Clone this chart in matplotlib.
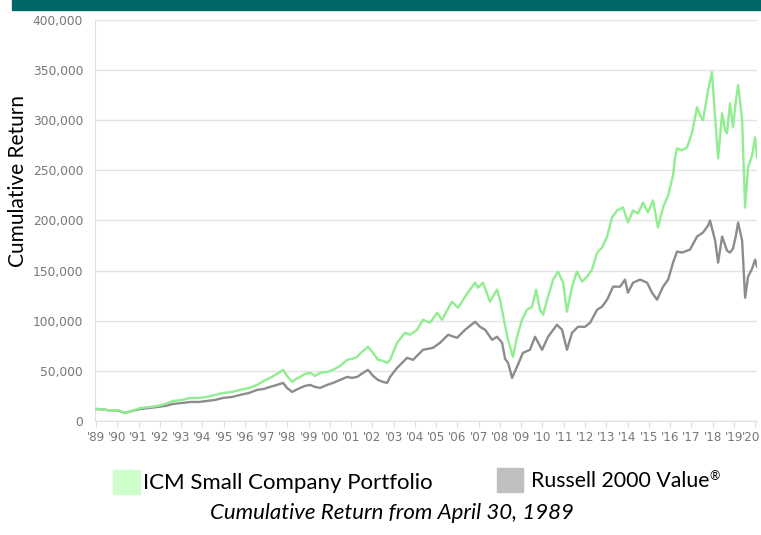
import matplotlib.pyplot as plt
from matplotlib.patches import Rectangle
from matplotlib.ticker import FuncFormatter
from matplotlib.transforms import ScaledTranslation

# values, dates in fractional years
icm_dates = [1989.00, 1989.33, 1989.66, 1990.03, 1990.36, 1990.69, 1991.07, 1991.54,
             1991.87, 1992.25, 1992.62, 1993.05, 1993.42, 1993.84, 1994.22, 1994.60,
             1994.97, 1995.40, 1995.77, 1996.20, 1996.57, 1996.90, 1997.18, 1997.51,
             1997.80, 1997.98, 1998.22, 1998.41, 1998.60, 1998.83, 1999.07, 1999.30,
             1999.54, 1999.87, 2000.15, 2000.48, 2000.81, 2001.04, 2001.28, 2001.56,
             2001.79, 2002.03, 2002.26, 2002.50, 2002.69, 2002.83, 2003.16, 2003.53,
             2003.77, 2004.10, 2004.38, 2004.71, 2005.04, 2005.27, 2005.74, 2006.03,
             2006.36, 2006.59, 2006.83, 2006.97, 2007.20, 2007.53, 2007.86, 2008.00,
             2008.24, 2008.38, 2008.61, 2008.80, 2009.04, 2009.27, 2009.51, 2009.70,
             2009.88, 2010.03, 2010.26, 2010.50, 2010.73, 2010.97, 2011.15, 2011.39,
             2011.62, 2011.86, 2012.10, 2012.33, 2012.57, 2012.80, 2013.04, 2013.27,
             2013.51, 2013.79, 2014.02, 2014.26, 2014.49, 2014.73, 2014.96, 2015.20,
             2015.43, 2015.67, 2015.91, 2016.14, 2016.23, 2016.33, 2016.56, 2016.80,
             2017.03, 2017.27, 2017.41, 2017.55, 2017.79, 2017.97, 2018.12, 2018.26,
             2018.45, 2018.59, 2018.68, 2018.82, 2018.96, 2019.10, 2019.20, 2019.29,
             2019.39, 2019.53, 2019.67, 2019.86, 2020.00, 2020.09]
icm_values = [12000, 11500, 10500, 11000, 8000, 10000, 13000, 14000,
              15000, 17000, 20000, 21000, 23000, 23000, 24000, 26000,
              28000, 29000, 31000, 33000, 36000, 40000, 43000, 47000,
              51000, 45000, 39000, 42000, 44000, 47000, 48000, 45000,
              48000, 49000, 51000, 55000, 61000, 62000, 64000, 70000,
              74000, 68000, 61000, 60000, 58000, 61000, 78000, 88000,
              86000, 91000, 101000, 98000, 108000, 101000, 119000, 113000,
              124000, 131000, 138000, 133000, 138000, 119000, 131000, 121000,
              95000, 81000, 64000, 84000, 101000, 111000, 114000, 131000,
              111000, 106000, 124000, 141000, 149000, 138000, 109000, 134000,
              149000, 139000, 144000, 151000, 168000, 173000, 184000, 203000,
              210000, 213000, 198000, 210000, 207000, 218000, 208000, 220000,
              193000, 213000, 225000, 245000, 262000, 272000, 270000, 273000,
              287000, 313000, 305000, 300000, 330000, 348000, 303000, 262000,
              307000, 290000, 287000, 317000, 293000, 320000, 335000, 320000,
              300000, 213000, 253000, 265000, 283000, 263000]

r2v_dates = [1989.00, 1989.33, 1989.66, 1990.03, 1990.36, 1990.69, 1991.07, 1991.54,
             1991.87, 1992.25, 1992.62, 1993.05, 1993.42, 1993.84, 1994.22, 1994.60,
             1994.97, 1995.40, 1995.77, 1996.20, 1996.57, 1996.90, 1997.18, 1997.51,
             1997.80, 1997.98, 1998.22, 1998.41, 1998.60, 1998.83, 1999.07, 1999.30,
             1999.54, 1999.87, 2000.15, 2000.48, 2000.81, 2001.04, 2001.28, 2001.56,
             2001.79, 2002.03, 2002.26, 2002.50, 2002.69, 2002.83, 2003.16, 2003.63,
             2003.91, 2004.38, 2004.85, 2005.18, 2005.56, 2005.98, 2006.36, 2006.83,
             2007.06, 2007.30, 2007.63, 2007.86, 2008.10, 2008.24, 2008.38, 2008.57,
             2008.80, 2009.08, 2009.41, 2009.65, 2009.98, 2010.26, 2010.68, 2010.92,
             2011.15, 2011.39, 2011.67, 2012.00, 2012.24, 2012.57, 2012.80, 2013.04,
             2013.32, 2013.65, 2013.88, 2014.02, 2014.26, 2014.59, 2014.92, 2015.15,
             2015.39, 2015.67, 2015.91, 2016.14, 2016.33, 2016.56, 2016.94, 2017.27,
             2017.55, 2017.79, 2017.88, 2018.12, 2018.26, 2018.45, 2018.68, 2018.82,
             2018.96, 2019.10, 2019.20, 2019.39, 2019.53, 2019.67, 2019.86, 2020.00,
             2020.09]
r2v_values = [12000, 11500, 10500, 10500, 8000, 10000, 12000, 13000,
              14000, 15000, 17000, 18000, 19000, 19000, 20000, 21000,
              23000, 24000, 26000, 28000, 31000, 32000, 34000, 36000,
              38000, 33000, 29000, 31000, 33000, 35000, 36000, 34000,
              33000, 36000, 38000, 41000, 44000, 43000, 44000, 48000,
              51000, 45000, 41000, 39000, 38000, 44000, 53000, 63000,
              61000, 71000, 73000, 78000, 86000, 83000, 91000, 99000,
              94000, 91000, 81000, 84000, 78000, 62000, 58000, 43000,
              54000, 68000, 71000, 84000, 71000, 84000, 96000, 91000,
              71000, 88000, 94000, 94000, 98000, 111000, 114000, 121000,
              134000, 134000, 141000, 128000, 138000, 141000, 138000, 128000,
              121000, 134000, 141000, 158000, 169000, 168000, 171000, 184000,
              188000, 195000, 200000, 180000, 158000, 184000, 170000, 168000,
              172000, 185000, 198000, 180000, 123000, 144000, 152000, 161000,
              154000]

years = list(range(1989, 2021))
year_labels = ["'%02d" % (y % 100) for y in years]

green = '#90ee90'
grey = '#8c8c8c'

fig = plt.figure(figsize=(7.61, 5.35), dpi=100)
ax = fig.add_axes([95 / 761, 1 - 421 / 535, 662 / 761, 401 / 535])

ax.plot(r2v_dates, r2v_values, color=grey, lw=1.7, zorder=3)
ax.plot(icm_dates, icm_values, color=green, lw=1.7, zorder=4)

ax.set_xlim(1988.95, 2020.09)
ax.set_ylim(0, 400000)
ax.set_yticks(range(0, 400001, 50000))
ax.yaxis.set_major_formatter(FuncFormatter(lambda v, p: f'{int(v):,}'))
ax.set_xticks(years)
ax.set_xticklabels(year_labels)
ax.grid(axis='y', color='#e3e3e3', lw=1)
ax.set_axisbelow(True)
for s in ['top', 'right']:
    ax.spines[s].set_visible(False)
for s in ['left', 'bottom']:
    ax.spines[s].set_color('#e0e0e0')
ax.tick_params(axis='y', length=0, pad=8.5, labelsize=8.8, labelcolor='#777777')
ax.tick_params(axis='x', length=4, color='#dddddd', direction='out', pad=3,
               labelsize=8.6, labelcolor='#777777')
last = ax.get_xticklabels()[-1]
last.set_transform(last.get_transform() + ScaledTranslation(-4 / 100, 0, fig.dpi_scale_trans))

# banner
fig.patches.append(Rectangle((0.016, 1 - 10 / 535), 0.984, 10 / 535,
                             transform=fig.transFigure, color='#006666'))

fig.text(18 / 761, 1 - 181 / 535, 'Cumulative Return', rotation=90,
         ha='center', va='center', fontsize=15, family='Lato')

# legend
fig.patches.append(Rectangle((113 / 761, 1 - 494 / 535), 27 / 761, 24 / 535,
                             transform=fig.transFigure, color='#ccffcc'))
fig.text(143 / 761, 1 - 483 / 535, 'ICM Small Company Portfolio', ha='left',
         va='center', fontsize=16, family='Lato')
fig.patches.append(Rectangle((497 / 761, 1 - 492 / 535), 26 / 761, 24 / 535,
                             transform=fig.transFigure, color='#bfbfbf'))
fig.text(531 / 761, 1 - 481 / 535, 'Russell 2000 Value', ha='left',
         va='center', fontsize=15.3, family='Lato')
fig.text(709 / 761, 1 - 476 / 535, '\u00ae', ha='left',
         va='center', fontsize=9, family='Lato')

fig.text(392 / 761, 1 - 513 / 535, 'Cumulative Return from April 30, 1989',
         ha='center', va='center', fontsize=16, family='Lato', style='italic')

fig.savefig('out.png', dpi=100)
